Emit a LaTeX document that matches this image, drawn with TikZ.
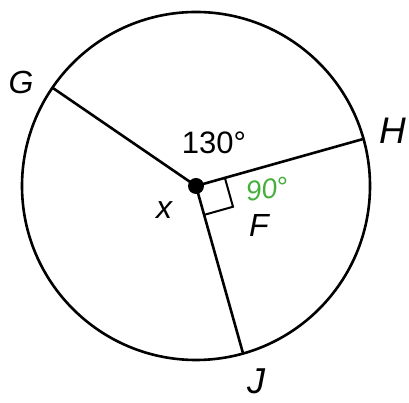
\documentclass[tikz,border=0pt]{standalone}
\usepackage{fontspec}
\setmainfont{Liberation Sans}
\usetikzlibrary{calc}
\definecolor{pencil}{RGB}{70,175,60}

\begin{document}
\begin{tikzpicture}[x=1pt, y=1pt, line width=2.6pt,
			lbl/.style={font=\fontsize{32}{36}\selectfont\itshape, inner sep=1pt},
			num/.style={font=\fontsize{31}{36}\selectfont, inner sep=1pt}]
			\useasboundingbox (0,0) rectangle (409,403);
			\node[circle, fill, inner sep=0pt, minimum size=16pt] (o) at (196,217) {};
			\coordinate (g) at ($(o)+(145.6:174)$);
			\coordinate (h) at ($(o)+(15.7:174)$);
			\coordinate (j) at ($(o)+(-74.3:174)$);
			\draw (o.center) circle (174pt);
			\draw (o.center) -- (g);
			\draw (o.center) -- (h);
			\draw (o.center) -- (j);
			\draw[line width=2pt] ($(o.center)+(15.7:30)$) -- ++(-74.3:30) -- ++(195.7:30);
			\node[lbl] (gl) at (21,321) {G};
			\node[lbl, font=\fontsize{37}{40}\selectfont\itshape] (hl) at (393,272) {H};
			\node[lbl, font=\fontsize{36}{40}\selectfont\itshape] (jl) at (256,22) {J};
			\node[lbl] (xl) at (164,193) {x};
			\node[lbl] (fl) at (259,178) {F};
			\node[num] (al) at (214,260) {130°};
			\node[num, text=pencil, font=\fontsize{28}{30}\selectfont\itshape, rotate=8, inner sep=0pt] (rl) at (267,214) {90°};
		\end{tikzpicture}
\end{document}
